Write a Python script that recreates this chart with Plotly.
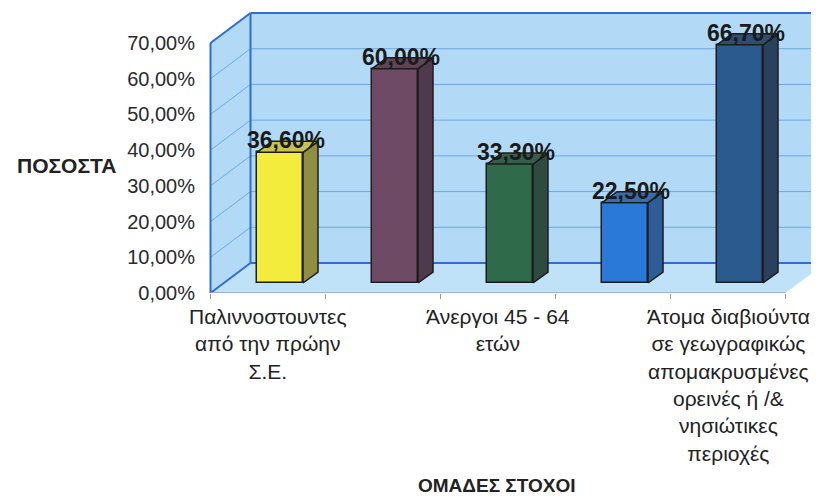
import plotly.graph_objects as go

# ---------------- data ----------------
categories = [
    "Παλιννοστουντες<br>από την πρώην<br>Σ.Ε.",
    "",
    "Άνεργοι 45 - 64<br>ετών",
    "",
    "Άτομα διαβιούντα<br>σε γεωγραφικώς<br>απομακρυσμένες<br>ορεινές ή /&amp;<br>νησιώτικες<br>περιοχές",
]
values = [36.6, 60.0, 33.3, 22.5, 66.7]
front_colors = ["#f4ec3c", "#6f4a64", "#2f6a4a", "#2a79d8", "#2b5a8f"]
side_colors = ["#8f8f42", "#4e3a4b", "#2e4b3f", "#2d5d97", "#29405f"]
top_colors = ["#c9c152", "#5d4457", "#395d4a", "#3b6ba9", "#2f4c74"]
y_ticks = [0, 10, 20, 30, 40, 50, 60, 70]
y_tick_labels = [f"{t:.2f}".replace(".", ",") + "%" for t in y_ticks]
y_title = "ΠΟΣΟΣΤΑ"
x_title = "ΟΜΑΔΕΣ ΣΤΟΧΟΙ"

# ---------------- geometry (style) ----------------
OFF = 8               # default page body margin
W, H = 819 - OFF, 499 - OFF
PX_X = 115.0          # px per category unit
PX_Y = 250.0 / 70     # px per percent unit
X0_PX = 268.0 - OFF   # px of category 0 centre on front plane
Y0_PX = 293.0 - OFF   # px of 0 % on front plane
L_PX, R_PX, T_PX = 209 - OFF, 819 - OFF, 4

def ux(px):
    return (px - X0_PX) / PX_X

x_range = [ux(L_PX), ux(R_PX)]
y_range = [0, (Y0_PX - T_PX) / PX_Y]

wall_dx, wall_dy = 40 / PX_X, 30 / PX_Y     # back wall depth
bar_dx, bar_dy = 12 / PX_X, 10 / PX_Y       # bar plane depth
side_dx, side_dy = 15 / PX_X, 11 / PX_Y     # bar thickness in depth
bar_w = 46 / PX_X
n = len(values)
xl, xr = -0.5, n - 0.5
ymax = y_ticks[-1]

def paper_x(px):
    return (px - OFF - L_PX) / (R_PX - L_PX)

def paper_y(py):
    return (Y0_PX - (py - OFF)) / (Y0_PX - T_PX)

fig = go.Figure()

shapes = []
wall_fill = "#b2daf6"
floor_fill = "#c0e2f8"
edge = "#2f6cd6"
grid = "#6fa6e6"

def poly(pts):
    return "M " + " L ".join(f"{x},{y}" for x, y in pts) + " Z"

# back wall
shapes.append(dict(type="path", xref="x", yref="y", layer="below",
                   path=poly([(xl + wall_dx, wall_dy), (xr + wall_dx + 1, wall_dy),
                              (xr + wall_dx + 1, ymax + wall_dy), (xl + wall_dx, ymax + wall_dy)]),
                   fillcolor=wall_fill, line=dict(width=0)))
# left wall
shapes.append(dict(type="path", xref="x", yref="y", layer="below",
                   path=poly([(xl, 0), (xl, ymax), (xl + wall_dx, ymax + wall_dy), (xl + wall_dx, wall_dy)]),
                   fillcolor=wall_fill, line=dict(width=0)))
# floor
shapes.append(dict(type="path", xref="x", yref="y", layer="below",
                   path=poly([(xl, 0), (xr, 0), (xr + wall_dx, wall_dy), (xl + wall_dx, wall_dy)]),
                   fillcolor=floor_fill, line=dict(width=0)))
# gridlines
for t in y_ticks[1:-1]:
    shapes.append(dict(type="line", xref="x", yref="y", layer="below",
                       x0=xl + wall_dx, y0=t + wall_dy, x1=xr + wall_dx + 1, y1=t + wall_dy,
                       line=dict(color=grid, width=1)))
    shapes.append(dict(type="line", xref="x", yref="y", layer="below",
                       x0=xl, y0=t, x1=xl + wall_dx, y1=t + wall_dy,
                       line=dict(color=grid, width=1)))
# wall edges
for (a, b, c, d) in [
    (xl, 0, xl, ymax),
    (xl, ymax, xl + wall_dx, ymax + wall_dy),
    (xl + wall_dx, ymax + wall_dy, xr + wall_dx + 1, ymax + wall_dy),
    (xl + wall_dx, wall_dy, xl + wall_dx, ymax + wall_dy),
    (xl, 0, xl + wall_dx, wall_dy),
    (xl + wall_dx, wall_dy, xr + wall_dx + 1, wall_dy),
]:
    shapes.append(dict(type="line", xref="x", yref="y", layer="below",
                       x0=a, y0=b, x1=c, y1=d, line=dict(color=edge, width=2)))
# front floor edge
shapes.append(dict(type="line", xref="x", yref="y", x0=xl, y0=0, x1=xr, y1=0,
                   line=dict(color="#9aa6b4", width=1.5), layer="below"))

# bars (front faces)
bx = [i + bar_dx for i in range(n)]
fig.add_trace(go.Bar(x=bx, y=values, base=[bar_dy] * n, width=bar_w,
                     marker=dict(color=front_colors, line=dict(color="#1c1c1c", width=1.5)),
                     hoverinfo="skip", showlegend=False))

# side and top faces
for i, v in enumerate(values):
    xr_b = bx[i] + bar_w / 2
    xl_b = bx[i] - bar_w / 2
    yt = bar_dy + v
    side = [(xr_b, bar_dy), (xr_b, yt), (xr_b + side_dx, yt + side_dy), (xr_b + side_dx, bar_dy + side_dy), (xr_b, bar_dy)]
    top = [(xl_b, yt), (xr_b, yt), (xr_b + side_dx, yt + side_dy), (xl_b + side_dx, yt + side_dy), (xl_b, yt)]
    for pts, col in [(side, side_colors[i]), (top, top_colors[i])]:
        fig.add_trace(go.Scatter(x=[p[0] for p in pts], y=[p[1] for p in pts],
                                 fill="toself", fillcolor=col, mode="lines",
                                 line=dict(color="#1c1c1c", width=1.5),
                                 hoverinfo="skip", showlegend=False))

annotations = []
# data labels
for i, v in enumerate(values):
    annotations.append(dict(x=bx[i] + 6 / PX_X, y=bar_dy + v + 12 / PX_Y, xref="x", yref="y",
                            text="<b>" + f"{v:.2f}".replace(".", ",") + "%</b>", showarrow=False,
                            font=dict(family="Liberation Sans, Arial", size=23, color="#1a1a1a"),
                            xanchor="center", yanchor="middle"))
# category labels
for i, c in enumerate(categories):
    if c:
        annotations.append(dict(x=i, y=paper_y(303), xref="x", yref="paper", text=c, showarrow=False,
                                font=dict(family="Liberation Sans, Arial", size=21, color="#222222"),
                                xanchor="center", yanchor="top", align="center"))
# axis titles
annotations.append(dict(x=paper_x(66), y=paper_y(165), xref="paper", yref="paper", text=f"<b>{y_title}</b>",
                        showarrow=False, font=dict(family="Liberation Sans, Arial", size=21, color="#222222"),
                        xanchor="center", yanchor="middle"))
annotations.append(dict(x=paper_x(497), y=paper_y(485), xref="paper", yref="paper", text=f"<b>{x_title}</b>",
                        showarrow=False, font=dict(family="Liberation Sans, Arial", size=19, color="#222222"),
                        xanchor="center", yanchor="middle"))

fig.update_layout(
    width=W, height=H,
    margin=dict(l=L_PX, r=W - R_PX, t=T_PX, b=H - int(Y0_PX), autoexpand=False),
    paper_bgcolor="white", plot_bgcolor="white",
    shapes=shapes, annotations=annotations,
    showlegend=False, bargap=0,
    xaxis=dict(range=x_range, showgrid=False, zeroline=False, automargin=False,
               tickvals=[k + 0.5 for k in range(-1, n)], ticktext=[""] * (n + 1),
               ticks="outside", ticklen=5, tickcolor="#999999",
               showline=False, fixedrange=True),
    yaxis=dict(range=y_range, showgrid=False, zeroline=False, showline=False, automargin=False,
               tickvals=y_ticks, ticktext=y_tick_labels,
               ticks="outside", ticklen=9, tickcolor="rgba(0,0,0,0)",
               tickfont=dict(family="Liberation Sans, Arial", size=20, color="#2a2a2a"),
               fixedrange=True),
)

fig.write_html("out.html")
